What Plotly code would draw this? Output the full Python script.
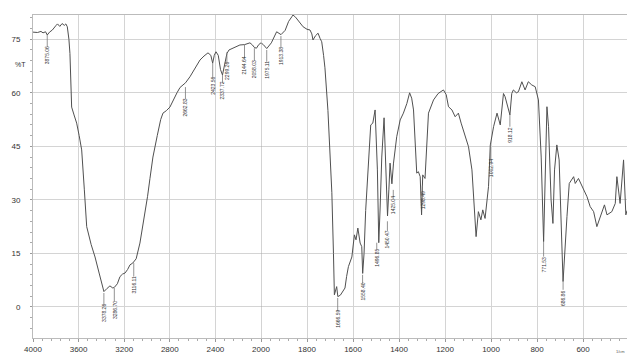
import plotly.graph_objects as go

# ---- spectrum data (wavenumber in 1/cm, %T) ----
wavenumber = [
    4000, 3960, 3930, 3912, 3890, 3875, 3855, 3830, 3800, 3785, 3765, 3745, 3725, 3712, 3699,
    3685, 3676, 3668, 3661, 3640, 3617, 3595, 3573, 3550, 3529, 3490, 3456, 3420, 3395, 3378,
    3350, 3325, 3300, 3286, 3260, 3237, 3215, 3193, 3170, 3149, 3125, 3116, 3095, 3062, 3040,
    3018, 2995, 2974, 2948, 2910, 2880, 2860, 2830, 2799, 2770, 2737, 2710, 2693, 2662, 2623,
    2580, 2535, 2500, 2465, 2440, 2424, 2410, 2395, 2375, 2355, 2338, 2322, 2310, 2299, 2281,
    2240, 2185, 2144, 2120, 2097, 2075, 2058, 2040, 2020, 2000,
    1990, 1975, 1955, 1932, 1913, 1895, 1880, 1866, 1861, 1850, 1835, 1817, 1800, 1787, 1779,
    1774, 1763, 1752, 1743, 1736, 1728, 1722, 1709, 1700, 1692, 1685, 1681, 1671, 1666, 1655,
    1645, 1635, 1628, 1620, 1605, 1594, 1587, 1579, 1569, 1562, 1558, 1552, 1545, 1533, 1523,
    1514, 1504, 1494, 1488, 1482, 1475, 1465, 1456, 1450, 1444, 1439, 1431, 1424, 1410, 1395,
    1381, 1366, 1354, 1345, 1337, 1330, 1323, 1316, 1308, 1302, 1297, 1287, 1280, 1272, 1250,
    1230, 1207, 1195, 1185, 1170, 1156, 1142, 1130, 1120, 1098, 1083, 1073, 1065, 1055, 1044,
    1036, 1026, 1011, 1003, 989, 974, 960, 946, 939, 930, 918, 910, 903, 890, 881,
    866, 852, 838, 823, 808, 794, 782, 771.5, 757, 750, 739, 731, 724, 714, 704,
    692, 687, 670, 660, 641, 634, 620, 598, 583, 569, 554, 540, 525, 507, 496,
    475, 460, 453, 439, 424, 414, 409,
]
transmittance = [
    77.0, 76.9, 77.2, 76.8, 77.1, 76.2, 77.0, 77.6, 78.8, 79.3, 78.6, 79.4, 78.9, 79.3, 78.5,
    75.0, 71.0, 63.0, 56.0, 53.8, 51.5, 48.0, 44.0, 33.0, 22.5, 17.5, 14.0, 9.5, 6.0, 4.3,
    5.2, 5.9, 5.3, 5.5, 6.5, 8.5, 9.2, 9.5, 10.5, 11.8, 12.3, 12.7, 13.5, 17.9, 22.0,
    27.0, 31.0, 36.0, 42.0, 48.0, 52.5, 54.3, 55.0, 56.0, 58.0, 60.0, 61.5, 61.9, 62.8, 64.5,
    67.0, 69.2, 70.3, 71.2, 70.5, 68.3, 70.5, 71.5, 70.5, 66.5, 65.0, 67.5, 69.5, 71.0, 72.0,
    72.6, 73.4, 73.5, 73.8, 74.0, 73.4, 72.7, 72.5, 73.5, 74.0,
    73.5, 72.4, 74.0, 77.1, 76.3, 77.5, 80.0, 81.3, 81.8, 81.2, 80.0, 78.5, 77.8, 77.6, 76.5,
    74.8, 76.0, 76.7, 75.2, 74.3, 70.5, 67.0, 55.0, 44.0, 32.0, 15.0, 3.4, 5.7, 2.9, 3.3,
    4.3, 5.3, 8.5, 11.3, 14.0, 20.2, 18.8, 22.1, 17.9, 16.9, 9.4, 15.0, 27.0, 42.0, 51.0,
    51.5, 55.2, 38.4, 18.0, 28.0, 42.0, 53.0, 38.4, 25.5, 33.0, 40.3, 34.5, 40.3, 47.7, 52.4,
    54.3, 57.0, 60.0, 58.5, 55.2, 47.0, 37.5, 37.9, 36.5, 25.8, 37.0, 36.0, 45.0, 54.3, 58.0,
    59.8, 60.8, 59.5, 56.1, 55.2, 53.3, 54.3, 51.5, 49.6, 44.9, 38.4, 29.0, 19.7, 26.7, 24.4,
    27.2, 24.8, 33.7, 45.4, 50.5, 54.3, 51.0, 59.8, 58.9, 56.5, 53.8, 59.8, 60.8, 60.0, 60.3,
    63.1, 60.8, 63.1, 62.2, 61.7, 58.0, 42.0, 18.3, 56.1, 50.5, 30.0, 23.4, 38.4, 45.4, 41.2,
    20.6, 7.1, 25.3, 34.6, 36.5, 34.6, 36.0, 32.8, 30.9, 28.1, 26.7, 22.5, 25.3, 28.6, 25.8,
    26.7, 29.0, 36.5, 29.0, 41.2, 25.8, 27.0,
]

# ---- peak labels ----
peak_labels = ["3875.06", "3378.26", "3286.70", "3116.11", "2662.83", "2423.56", "2337.72",
               "2299.26", "2144.64", "2058.03", "1975.11", "1913.38", "1666.59", "1558.40",
               "1496.85", "1450.47", "1425.04", "1298.49", "1002.94", "918.12", "771.53", "686.86"]
peak_wn = [3875.06, 3378.26, 3286.70, 3116.11, 2662.83, 2423.56, 2337.72,
           2299.26, 2144.64, 2058.03, 1975.11, 1913.38, 1666.59, 1558.40,
           1496.85, 1450.47, 1425.04, 1298.49, 1002.94, 918.12, 771.53, 686.86]
# label layout (in %T units): top of leader line, centre of rotated text
label_line_top = [76.2, 3.9, 5.3, 12.3, 61.6, 68.3, 65.0, 71.4, 73.4, 72.5, 72.0, 75.9,
                  2.5, 9.0, 18.0, 24.0, 32.8, 34.0, 45.4, 53.8, 18.2, 7.0]
label_text_y = [70.6, -1.7, -0.8, 6.2, 56.0, 61.9, 60.5, 66.1, 67.5, 66.7, 66.4, 70.3,
                -3.4, 4.2, 13.7, 19.0, 28.6, 30.0, 39.0, 48.2, 11.8, 2.5]

# ---- axis ticks ----
hi_ticks = [4000, 3600, 3200, 2800, 2400]
lo_ticks = [2000, 1800, 1600, 1400, 1200, 1000, 800, 600, 400]
y_ticks = [0, 15, 30, 45, 60, 75]

W, H = 627, 354
ML, MR, MT, MB = 33, 0, 15, 16
split = (261 - ML) / (W - ML - MR)

hi_w = [w for w in wavenumber if w >= 2000]
hi_t = [t for w, t in zip(wavenumber, transmittance) if w >= 2000]
lo_w = [w for w in wavenumber if w <= 2000]
lo_t = [t for w, t in zip(wavenumber, transmittance) if w <= 2000]

line_color = "#505050"
grid_color = "#d4d4d4"

fig = go.Figure()
fig.add_trace(go.Scatter(x=hi_w, y=hi_t, mode="lines", xaxis="x", yaxis="y",
                         line=dict(color=line_color, width=1), showlegend=False))
fig.add_trace(go.Scatter(x=lo_w, y=lo_t, mode="lines", xaxis="x2", yaxis="y",
                         line=dict(color=line_color, width=1), showlegend=False))

tickfont = dict(family="Liberation Sans, Arial, sans-serif", size=8, color="#333333")

fig.update_layout(
    width=W, height=H,
    margin=dict(l=ML, r=MR, t=MT, b=MB, autoexpand=False),
    paper_bgcolor="white", plot_bgcolor="white",
    xaxis=dict(domain=[0, split], range=[4000, 2000], tickvals=hi_ticks,
               ticktext=[str(v) for v in hi_ticks], tickfont=tickfont,
               showgrid=True, gridcolor=grid_color, gridwidth=1, zeroline=False,
               showline=True, linecolor="#bbbbbb", linewidth=1, mirror=True,
               ticks="outside", ticklen=3, tickcolor="#999999",
               minor=dict(dtick=80, tick0=4000, ticks="outside", ticklen=2,
                          tickcolor="#aaaaaa", showgrid=False),
               anchor="y"),
    xaxis2=dict(domain=[split, 1], range=[2000, 409], tickvals=lo_ticks,
                ticktext=[str(v) for v in lo_ticks], tickfont=tickfont,
                showgrid=True, gridcolor=grid_color, gridwidth=1, zeroline=False,
                showline=True, linecolor="#bbbbbb", linewidth=1, mirror=True,
                ticks="outside", ticklen=3, tickcolor="#999999",
                minor=dict(dtick=40, tick0=2000, ticks="outside", ticklen=2,
                           tickcolor="#aaaaaa", showgrid=False),
                anchor="y"),
    yaxis=dict(range=[-8.7, 81.8], tickvals=y_ticks, ticktext=[str(v) for v in y_ticks],
               tickfont=tickfont, showgrid=True, gridcolor=grid_color, gridwidth=1,
               zeroline=False, showline=True, linecolor="#bbbbbb", linewidth=1,
               ticks="outside", ticklen=2, tickcolor="#999999", ticklabelstandoff=8,
               minor=dict(dtick=3, tick0=0, ticks="outside", ticklen=2,
                          tickcolor="#aaaaaa", showgrid=False),
               anchor="x"),
)

# scale-change line at 2000
fig.add_shape(type="line", xref="x2", yref="paper", x0=2000, x1=2000, y0=0, y1=1,
              line=dict(color="#a8a8a8", width=1))

# peak labels with leader lines
for lab, w, top, ty in zip(peak_labels, peak_wn, label_line_top, label_text_y):
    xr = "x" if w > 2000 else "x2"
    fig.add_shape(type="line", xref=xr, yref="y", x0=w, x1=w, y0=top, y1=ty + 2.3,
                  line=dict(color="#777777", width=0.8))
    fig.add_annotation(x=w, y=ty, xref=xr, yref="y", text=lab, showarrow=False,
                       textangle=-90,
                       font=dict(family="Liberation Sans, Arial, sans-serif", size=5,
                                 color="#333333"))

fig.add_annotation(x=-20 / (W - ML - MR), y=67.8, xref="paper", yref="y", text="%T",
                   showarrow=False,
                   font=dict(family="Liberation Sans, Arial, sans-serif", size=7, color="#333333"))
fig.add_annotation(x=1, y=0, xref="paper", yref="paper", yshift=-9, xanchor="right",
                   yanchor="top", text="1/cm", showarrow=False,
                   font=dict(family="Liberation Sans, Arial, sans-serif", size=4, color="#555555"))

fig.write_html("out.html", config={"displayModeBar": False},
               post_script="document.body.style.margin='0';document.body.style.overflow='hidden';")
